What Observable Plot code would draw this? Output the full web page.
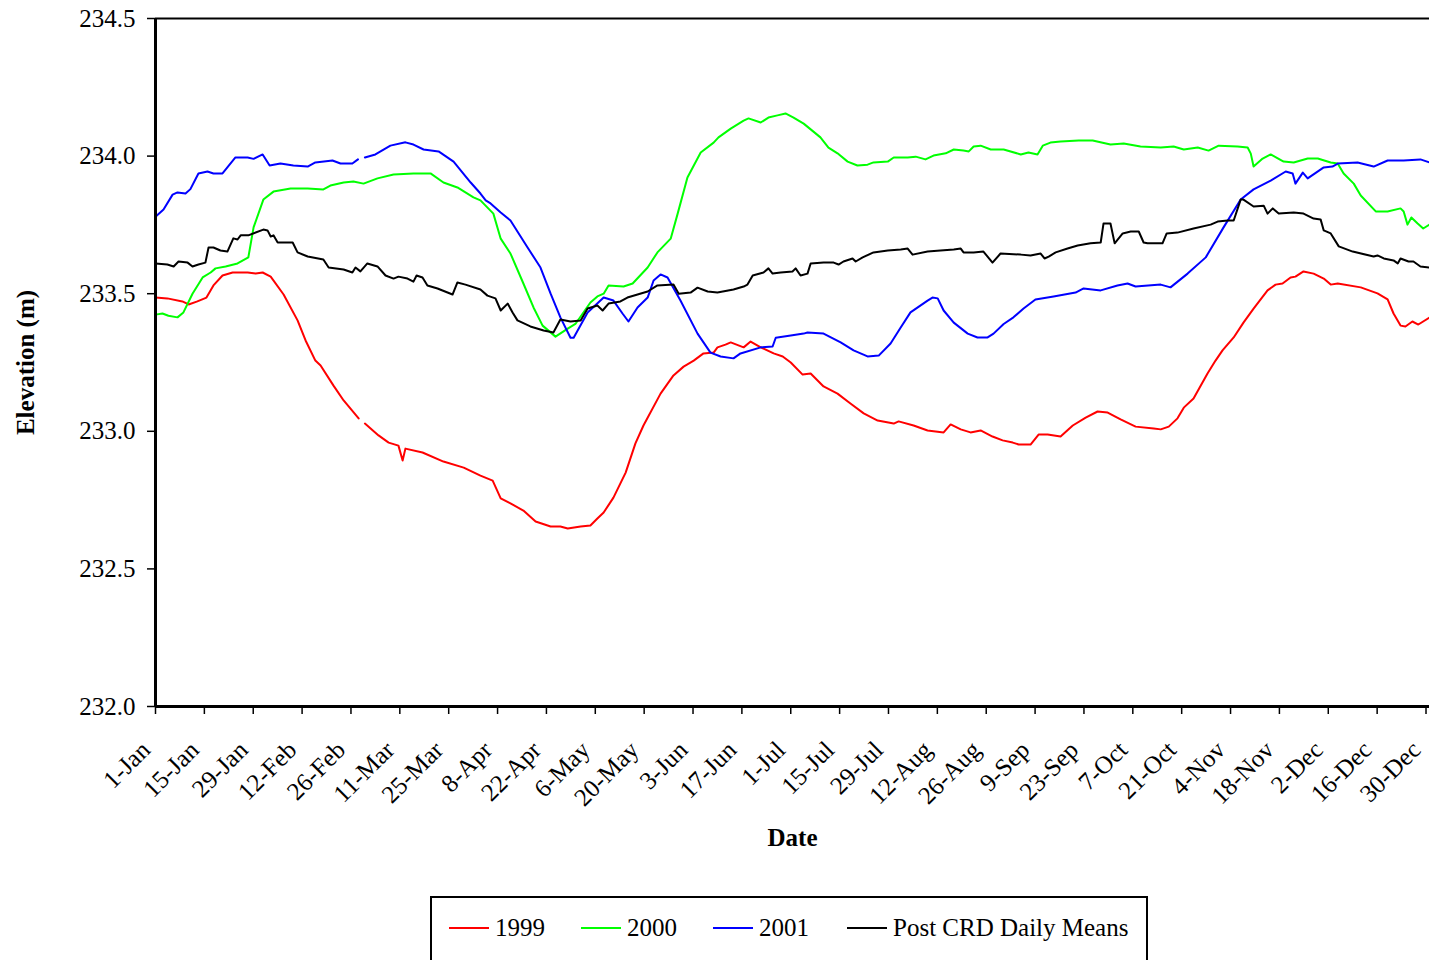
<!DOCTYPE html>
<html><head><meta charset="utf-8">
<script src="https://cdn.jsdelivr.net/npm/d3@7"></script>
<script src="https://cdn.jsdelivr.net/npm/@observablehq/plot@0.6"></script>
<style>
body{margin:0;background:#fff;font-family:"Liberation Serif","Times New Roman",serif;}
#chart svg{display:block;}
#legend{position:relative;margin-left:430px;margin-top:6px;width:714px;height:60px;padding-top:15px;border:2px solid #000;box-sizing:content-box;display:flex;align-items:flex-start;}
#legend .item{display:flex;align-items:center;font-size:25px;line-height:29px;color:#000;white-space:nowrap;}
#legend .sw{width:40px;height:2px;margin-right:6px;}
</style></head><body>
<div id="chart"></div>
<div id="legend"></div>
<script>
// Day of year (leap-year calendar, 1 = 1-Jan) and elevation (m)
const days1999 = [1,4.4,8.7,10.5,13,15.6,17.6,20.2,23.1,27.4,29.7,31.7,34,37.7,41.7,44,46.8,48.3,52,54.9,59.2,60,61,64.9,67.8,70.6,71.8,72.6,77.5,83.5,89.3,94.1,97.6,99.9,102.7,106.4,109.9,114.2,117,119.1,122.8,125.6,127.6,129.4,132.2,135.7,138.5,140.8,145.7,149.4,152.3,155.2,158,160.9,162,164.3,165.8,169.5,171.5,174.4,178.1,180.7,183,186.4,188.7,192.4,196.4,200.1,203.9,207.9,212.5,213.9,218.2,222.2,226.8,228.8,231.7,234.5,237.4,240.8,243.7,246.6,248.3,251.7,254,256.6,260.3,263.8,267.5,270.9,273.8,277.5,281.8,287,289,291.3,293.8,295.6,298.4,302.4,304.7,306.7,309.9,312.7,315.6,319.6,321.9,323.9,326.2,327.6,329.9,332.8,335.7,337.7,339.7,346.3,351.1,354,355.7,357.7,359.1,361.1,362.8,366];
const elev1999 = [233.486,233.483,233.472,233.461,233.472,233.486,233.53,233.566,233.577,233.577,233.573,233.577,233.562,233.497,233.403,233.33,233.257,233.239,233.166,233.112,233.047,null,233.028,232.985,232.959,232.948,232.894,232.937,232.923,232.89,232.868,232.839,232.821,232.756,232.738,232.712,232.672,232.654,232.654,232.647,232.654,232.658,232.683,232.705,232.759,232.85,232.956,233.021,233.137,233.203,233.235,233.257,233.283,233.286,233.305,233.315,233.323,233.305,233.326,233.305,233.283,233.272,233.25,233.206,233.21,233.163,233.137,233.101,233.065,233.039,233.028,233.036,233.021,233.003,232.996,233.025,233.007,232.996,233.003,232.981,232.967,232.959,232.952,232.952,232.988,232.988,232.981,233.021,233.05,233.072,233.068,233.043,233.017,233.01,233.007,233.017,233.047,233.086,233.119,233.21,233.257,233.294,233.341,233.395,233.446,233.512,233.533,233.537,233.559,233.562,233.581,233.573,233.555,233.533,233.537,233.523,233.501,233.479,233.428,233.384,233.381,233.399,233.388,233.413];

const days2000 = [1,3,4.7,7.3,9,11.6,14.5,16.8,18.2,21.1,24.5,27.6,29.1,31.9,34.8,39.7,44.6,49.1,51.1,54.9,57.7,60.6,64.6,69.2,74.9,79.8,83.5,87.5,92.1,94.1,97.8,99.9,102.7,106.4,109.3,111.9,115.6,119.1,121.3,125.6,127.6,129.4,130.8,135.1,137.7,142,144.8,148.6,150.6,153.4,157.2,160.9,162.3,165.8,169.5,170.9,174.4,176.6,179.2,181.5,183.8,186.7,189.5,191.5,193.8,196.4,199.3,202.1,205,206.7,210.8,212.5,216.5,218.8,221.6,223.9,227.4,229.7,232.5,234,235.4,237.4,240.3,244,248.9,251.1,253.7,255.2,257.4,260.3,265.5,269.5,274.6,278.4,283.2,289,292.7,295.6,299.6,302.7,305.6,311,313.9,314.8,315.6,318.2,320.5,324.2,327.1,331.1,334,337.7,339.7,341.4,344.3,346.3,350.6,354,357.7,358.6,359.7,360.8,362.6,364.2,366];
const elev2000 = [233.424,233.428,233.42,233.414,233.432,233.5,233.559,233.577,233.592,233.599,233.61,233.632,233.741,233.842,233.871,233.882,233.882,233.879,233.893,233.904,233.908,233.9,233.919,233.933,233.937,233.937,233.904,233.886,233.85,233.839,233.791,233.7,233.646,233.537,233.45,233.384,233.344,233.373,233.39,233.468,233.49,233.5,233.53,233.526,233.537,233.595,233.65,233.7,233.791,233.922,234.013,234.049,234.068,234.1,234.129,234.137,234.122,234.14,234.148,234.155,234.14,234.118,234.089,234.068,234.031,234.01,233.98,233.966,233.969,233.977,233.98,233.995,233.995,233.998,233.988,234.002,234.01,234.024,234.02,234.017,234.035,234.038,234.024,234.024,234.006,234.013,234.006,234.038,234.049,234.053,234.057,234.057,234.042,234.046,234.035,234.031,234.035,234.024,234.031,234.02,234.038,234.035,234.031,234.009,233.962,233.991,234.006,233.98,233.977,233.991,233.991,233.977,233.973,233.937,233.9,233.857,233.799,233.799,233.81,233.799,233.751,233.777,233.755,233.737,233.751];

const days2001 = [1,3.3,5.9,7.3,9.6,11,13.3,15.9,17.6,20.2,23.9,27.4,29.1,31.7,33.7,36.8,40.5,44.6,46.8,51.7,54,57.4,59,60,61,64,68.3,72.6,74.9,77.8,82.1,86.4,91.3,94.1,95.6,97,99.9,102.7,107.6,111.3,114.2,117,119.9,120.8,124.8,129.4,132.2,134.8,136.5,139.1,142,143.7,145.7,147.7,151.4,156.3,160,162.9,166.6,168.6,174.4,177.8,178.7,183,186.7,187.8,192.4,197.3,201,205,208.2,211.6,214.5,217.3,222.2,223.6,225.1,226.8,229.7,233.7,236.5,239.4,241.1,244,246.8,249.7,253.1,258.3,264.6,266.9,271.8,276.6,279.5,281.8,289,291.8,296.7,301.9,307,311.9,315.6,320.5,324.8,326.8,327.6,329.7,331.1,335.7,338.2,339.7,345.4,350,354,358.6,363.4,366];
const elev2001 = [233.78,233.806,233.86,233.868,233.864,233.88,233.937,233.944,233.937,233.937,233.995,233.995,233.99,234.006,233.966,233.973,233.966,233.962,233.977,233.984,233.973,233.973,233.988,null,233.995,234.006,234.038,234.05,234.042,234.024,234.017,233.98,233.904,233.864,233.839,233.828,233.795,233.766,233.668,233.595,233.5,233.414,233.34,233.34,233.432,233.486,233.475,233.428,233.399,233.45,233.486,233.548,233.57,233.559,233.475,233.355,233.286,233.272,233.265,233.283,233.305,233.308,233.34,233.348,233.355,233.359,233.355,233.323,233.294,233.272,233.275,233.319,233.377,233.432,233.475,233.486,233.483,233.439,233.395,233.355,233.341,233.341,233.355,233.39,233.414,233.446,233.479,233.49,233.504,233.519,233.512,233.53,233.537,233.526,233.533,233.523,233.573,233.632,233.741,233.842,233.879,233.911,233.944,233.937,233.9,233.94,233.919,233.959,233.962,233.973,233.977,233.962,233.984,233.984,233.988,233.977];

const daysMean = [1,4.4,6.2,7.6,10.2,11.6,13.3,15.3,16.2,17.6,19.6,21.6,23.3,24.5,25.4,27.6,31.9,33.1,34,34.8,36,40.3,41.7,44.6,49.1,50.6,54.9,57.4,58.3,59.7,61.7,64.6,66.9,69.2,70.6,73.2,74.9,75.8,77.5,78.9,81.8,86.1,87.5,89.8,94.1,96.1,98.4,99.9,101.9,103.3,104.7,108.4,112.2,115,117,119.9,122.8,124.8,127.6,129.1,130.8,134.2,136.2,139.1,142,144.8,149.4,150.9,154.3,156.3,159.2,162,166.6,169.5,170.6,172.1,175.2,176.6,177.8,180.1,183.5,184.4,185.8,187.8,188.7,192.4,195.3,196.7,198.1,200.7,201.6,203.6,206.7,210.8,214.5,216.5,217.9,222.2,225.9,229.7,231.7,232.5,235.4,238.2,240.8,243.1,248.9,251.7,254.6,255.7,256.9,258.9,262.3,265.2,268.9,271.8,272.6,274.6,275.8,278.1,280.4,282.7,284.1,285.2,289.5,290.7,293.8,298.4,303.3,305.3,308.2,309.9,311.9,312.7,315.6,318.5,319.6,321.1,322.8,327.1,329.9,332.8,334.8,335.7,337.7,340,344,350,351.1,352.9,355.7,356.9,357.7,360,361.4,363.4,366];
const elevMean = [233.61,233.606,233.599,233.617,233.613,233.599,233.606,233.613,233.668,233.668,233.657,233.653,233.701,233.697,233.712,233.712,233.733,233.73,233.708,233.712,233.686,233.686,233.65,233.635,233.624,233.595,233.588,233.577,233.595,233.581,233.61,233.599,233.566,233.555,233.562,233.555,233.544,233.566,233.559,233.53,233.519,233.497,233.541,233.533,233.515,233.493,233.483,233.439,233.464,233.432,233.403,233.381,233.366,233.359,233.406,233.399,233.403,233.446,233.457,233.439,233.464,233.472,233.486,233.497,233.508,233.53,233.533,233.5,233.504,233.522,233.508,233.504,233.515,233.526,233.533,233.566,233.577,233.592,233.573,233.577,233.581,233.592,233.566,233.573,233.61,233.613,233.613,233.606,233.617,233.628,233.617,233.632,233.65,233.657,233.661,233.664,233.642,233.653,233.657,233.661,233.664,233.65,233.65,233.653,233.613,233.646,233.642,233.639,233.646,233.628,233.635,233.65,233.664,233.675,233.683,233.686,233.755,233.755,233.683,233.719,233.726,233.726,233.686,233.683,233.683,233.719,233.722,233.737,233.751,233.762,233.766,233.766,233.842,233.842,233.817,233.82,233.791,233.81,233.791,233.795,233.791,233.773,233.77,233.73,233.719,233.672,233.653,233.635,233.639,233.628,233.621,233.61,233.628,233.617,233.617,233.599,233.595];

const seriesNames = ["1999", "2000", "2001", "Post CRD Daily Means"];
const seriesColors = ["#ff0000", "#00ff00", "#0000ff", "#000000"];
const tickDays = [1,15,29,43,57,71,85,99,113,127,141,155,169,183,197,211,225,239,253,267,281,295,309,323,337,351,365];
const tickLabels = ["1-Jan","15-Jan","29-Jan","12-Feb","26-Feb","11-Mar","25-Mar","8-Apr","22-Apr","6-May","20-May","3-Jun","17-Jun","1-Jul","15-Jul","29-Jul","12-Aug","26-Aug","9-Sep","23-Sep","7-Oct","21-Oct","4-Nov","18-Nov","2-Dec","16-Dec","30-Dec"];
const yTicks = [232.0, 232.5, 233.0, 233.5, 234.0, 234.5];
const xTitle = "Date";
const yTitle = "Elevation (m)";

const seriesDays = [days1999, days2000, days2001, daysMean];
const seriesElev = [elev1999, elev2000, elev2001, elevMean];
const rows = seriesNames.map((name, k) =>
  seriesDays[k].map((d, i) => ({day: d, elev: seriesElev[k][i], series: name})));

const ticks = tickDays.map((d, i) => ({day: d, label: tickLabels[i]}));

const chart = Plot.plot({
  width: 1429,
  height: 890,
  marginLeft: 155,
  marginRight: 0,
  marginTop: 18,
  marginBottom: 184,
  style: {fontFamily: "'Liberation Serif', 'Times New Roman', serif", fontSize: "25px", color: "#000", background: "#fff"},
  x: {domain: [1, 366]},
  y: {domain: [232, 234.5]},
  marks: [
    Plot.axisY({ticks: yTicks, tickFormat: d3.format(".1f"), tickSize: 8, tickPadding: 12, label: null, strokeWidth: 1.5, fontSize: 25}),
    Plot.axisX({ticks: tickDays, tickSize: 8, tickFormat: () => "", label: null, strokeWidth: 1.5}),
    Plot.text(ticks, {x: "day", text: "label", frameAnchor: "bottom", rotate: -45, textAnchor: "end", lineAnchor: "bottom", dx: -4, dy: 45, fontSize: 25}),
    ...rows.map((r, k) => Plot.line(r, {x: "day", y: "elev", stroke: seriesColors[k], strokeWidth: 2, curve: "linear"})),
    Plot.ruleY([234.5], {stroke: "#000", strokeWidth: 2}),
    Plot.ruleY([232], {stroke: "#000", strokeWidth: 3}),
    Plot.ruleX([1], {stroke: "#000", strokeWidth: 3}),
    Plot.text([xTitle], {frameAnchor: "bottom", lineAnchor: "middle", textAnchor: "middle", dy: 131, fontWeight: "bold", fontSize: 25}),
    Plot.text([yTitle], {frameAnchor: "left", rotate: -90, textAnchor: "middle", lineAnchor: "middle", dx: -130, fontWeight: "bold", fontSize: 25})
  ]
});
document.getElementById("chart").appendChild(chart);

const legend = document.getElementById("legend");
const gaps = [17, 36, 36, 38];
seriesNames.forEach((name, k) => {
  const item = document.createElement("div");
  item.className = "item";
  item.style.marginLeft = gaps[k] + "px";
  const sw = document.createElement("div");
  sw.className = "sw";
  sw.style.background = seriesColors[k];
  const t = document.createElement("span");
  t.textContent = name;
  item.appendChild(sw);
  item.appendChild(t);
  legend.appendChild(item);
});
</script>
</body></html>
